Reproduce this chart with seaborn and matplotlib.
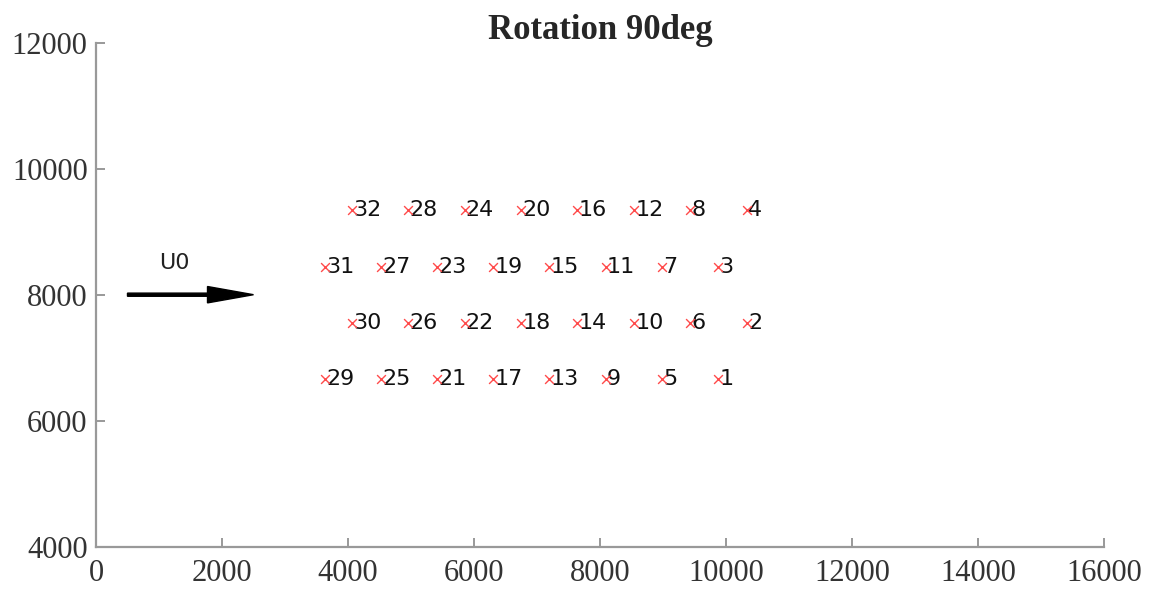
import matplotlib
matplotlib.use("Agg")
import matplotlib.pyplot as plt
import seaborn as sns
import pandas as pd

# Turbine positions
turbine_ids = [32, 28, 24, 20, 16, 12, 8, 4,
               31, 27, 23, 19, 15, 11, 7, 3,
               30, 26, 22, 18, 14, 10, 6, 2,
               29, 25, 21, 17, 13, 9, 5, 1]
x_pos = [4070, 4960, 5850, 6750, 7640, 8540, 9430, 10330,
         3630, 4520, 5410, 6300, 7190, 8090, 8980, 9880,
         4070, 4960, 5850, 6750, 7640, 8540, 9430, 10330,
         3630, 4520, 5410, 6300, 7190, 8090, 8980, 9880]
y_pos = [9340, 9340, 9340, 9340, 9340, 9340, 9340, 9340,
         8445, 8445, 8445, 8445, 8445, 8445, 8445, 8445,
         7550, 7550, 7550, 7550, 7550, 7550, 7550, 7550,
         6660, 6660, 6660, 6660, 6660, 6660, 6660, 6660]

x_ticks = [0, 2000, 4000, 6000, 8000, 10000, 12000, 14000, 16000]
y_ticks = [4000, 6000, 8000, 10000, 12000]

arrow_start = (500, 8000)
arrow_end = (2500, 8000)
flow_label = "U0"
flow_label_pos = (1000, 8500)
title = "Rotation 90deg"

df = pd.DataFrame({"x": x_pos, "y": y_pos, "id": turbine_ids})

sns.set_style("white")
fig = plt.figure(figsize=(11.53, 5.90), dpi=100)
ax = fig.add_axes([96/1153, 1 - 546.7/590, (1104-96)/1153, (546.7-42.7)/590])

sns.scatterplot(data=df, x="x", y="y", marker="x", color="#ff4a4a",
                s=40, linewidth=1.0, ax=ax, legend=False, zorder=3)

for xi, yi, tid in zip(df["x"], df["y"], df["id"]):
    ax.text(xi + 20, yi, str(tid), ha="left", va="center",
            fontsize=16, family="DejaVu Sans", color="#111111", zorder=2)

ax.arrow(arrow_start[0], arrow_start[1],
         arrow_end[0] - arrow_start[0], arrow_end[1] - arrow_start[1],
         width=50, head_width=260, head_length=730,
         length_includes_head=True, color="black", zorder=3)
ax.text(flow_label_pos[0], flow_label_pos[1], flow_label, ha="left", va="center",
        fontsize=16, family="DejaVu Sans", color="#222222")

ax.set_xlim(0, 16000)
ax.set_ylim(4000, 12000)
ax.set_xticks(x_ticks)
ax.set_yticks(y_ticks)
ax.set_xticklabels([str(t) for t in x_ticks], family="Liberation Serif", fontsize=22, color="#333333")
ax.set_yticklabels([str(t) for t in y_ticks], family="Liberation Serif", fontsize=22, color="#333333")
ax.set_xlabel("")
ax.set_ylabel("")
ax.tick_params(axis="y", pad=6)
ax.tick_params(axis="x", pad=9)
ax.tick_params(axis="both", direction="in", length=6.5, width=1.2, color="#888888",
               left=True, bottom=True, top=False, right=False)
for side in ["top", "right"]:
    ax.spines[side].set_visible(False)
for side in ["left", "bottom"]:
    ax.spines[side].set_color("#999999")
    ax.spines[side].set_linewidth(1.6)

ax.set_title(title, family="Liberation Serif", fontweight="bold", fontsize=25, pad=3)

fig.savefig("out.png", dpi=100, facecolor="white")
